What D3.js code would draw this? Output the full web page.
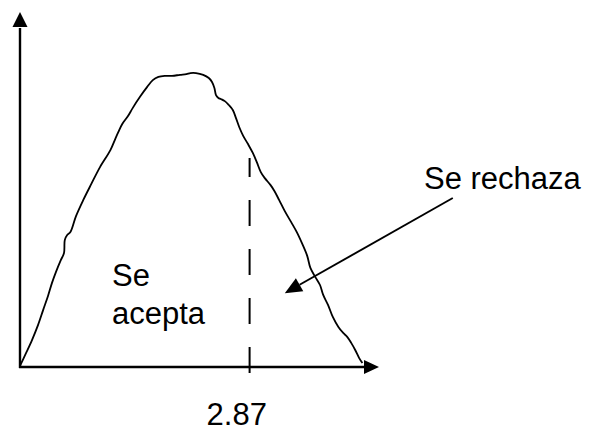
<!DOCTYPE html>
<html>
<head>
<meta charset="utf-8">
<script src="https://cdn.jsdelivr.net/npm/d3@7"></script>
<style>
  html, body { margin: 0; padding: 0; background: #fff; }
  svg { display: block; }
  text { font-family: "Liberation Sans", Arial, sans-serif; fill: #000; }
</style>
</head>
<body>
<svg id="chart" width="590" height="432"></svg>
<script>
// Hand-drawn density curve (statistic value, relative height)
const curveX = [0, 0.075, 0.15, 0.225, 0.29, 0.35, 0.40, 0.45, 0.51, 0.55,
  0.56, 0.59, 0.63, 0.70, 0.79, 0.89, 1.00, 1.13, 1.19, 1.23,
  1.28, 1.35, 1.41, 1.50, 1.59, 1.66, 1.73, 1.81, 1.90, 2.00,
  2.08, 2.13, 2.20, 2.29, 2.36, 2.40, 2.43, 2.45, 2.48, 2.51,
  2.56, 2.61, 2.66, 2.70, 2.74, 2.79, 2.85, 2.91, 2.96, 3.01,
  3.06, 3.13, 3.18, 3.24, 3.31, 3.39, 3.46, 3.53, 3.59, 3.63,
  3.69, 3.75, 3.79, 3.85, 3.91, 3.98, 4.04, 4.09, 4.14, 4.19,
  4.24, 4.28];
const curveY = [0.003, 0.039, 0.076, 0.118, 0.161, 0.200, 0.237, 0.268, 0.301, 0.321,
  0.358, 0.372, 0.380, 0.425, 0.470, 0.515, 0.563, 0.611, 0.642, 0.662,
  0.685, 0.707, 0.730, 0.761, 0.789, 0.808, 0.817, 0.820, 0.820, 0.823,
  0.825, 0.828, 0.828, 0.823, 0.814, 0.803, 0.786, 0.766, 0.758, 0.755,
  0.749, 0.738, 0.724, 0.701, 0.676, 0.651, 0.628, 0.603, 0.577, 0.549,
  0.532, 0.513, 0.496, 0.470, 0.439, 0.408, 0.380, 0.346, 0.313, 0.279,
  0.254, 0.231, 0.203, 0.175, 0.141, 0.113, 0.096, 0.085, 0.068, 0.048,
  0.025, 0.011];

// Critical value separating the two regions
const criticalValue = 2.87;
const criticalLabel = "2.87";

// Region labels
const acceptLines = ["Se", "acepta"];
const rejectLabel = "Se rechaza";

// Annotation arrow: start and tip, in data units
const rejectArrowFrom = [5.41, 0.476];
const rejectArrowTo = [3.31, 0.208];

const svg = d3.select("#chart");

const x = d3.scaleLinear().domain([0, 4.5]).range([20, 380]);
const y = d3.scaleLinear().domain([0, 1]).range([367, 12]);

// Filled triangular arrowhead pointing from `from` to `tip`
function arrowHead(tip, from, len, halfW) {
  const dx = tip[0] - from[0], dy = tip[1] - from[1];
  const d = Math.hypot(dx, dy);
  const ux = dx / d, uy = dy / d;
  const bx = tip[0] - ux * len, by = tip[1] - uy * len;
  const px = -uy * halfW, py = ux * halfW;
  svg.append("path")
    .attr("d", `M${tip[0]},${tip[1]}L${bx + px},${by + py}L${bx - px},${by - py}Z`)
    .attr("fill", "#000");
  return [bx, by];
}

// Axes with arrowheads
const x0 = x(0), y0 = y(0);
const yTip = [x0, y(1)];
const yBase = arrowHead(yTip, [x0, y0], 15, 7.5);
svg.append("line")
  .attr("x1", x0).attr("y1", y0 + 1)
  .attr("x2", x0).attr("y2", yBase[1] + 1)
  .attr("stroke", "#000").attr("stroke-width", 2.4);

const xTip = [379, y0];
const xBase = arrowHead(xTip, [x0, y0], 15, 7);
svg.append("line")
  .attr("x1", x0 - 1).attr("y1", y0)
  .attr("x2", xBase[0] + 1).attr("y2", y0)
  .attr("stroke", "#000").attr("stroke-width", 2.4);

// Density curve
const pts = curveX.map((v, i) => [v, curveY[i]]);
svg.append("path")
  .datum(pts)
  .attr("d", d3.line().x(d => x(d[0])).y(d => y(d[1])).curve(d3.curveCatmullRom.alpha(0.5)))
  .attr("fill", "none")
  .attr("stroke", "#000")
  .attr("stroke-width", 1.8)
  .attr("stroke-linejoin", "round");

// Dashed line at the critical value, drawn upward from just below the axis
svg.append("line")
  .attr("x1", x(criticalValue)).attr("y1", y0 + 6)
  .attr("x2", x(criticalValue)).attr("y2", 158)
  .attr("stroke", "#000")
  .attr("stroke-width", 2)
  .attr("stroke-dasharray", "26,23");

// Critical value label
svg.append("text")
  .attr("x", x(criticalValue) - 43)
  .attr("y", 425)
  .attr("font-size", 31)
  .text(criticalLabel);

// Acceptance region label
svg.append("text")
  .attr("font-size", 31)
  .selectAll("tspan")
  .data(acceptLines)
  .join("tspan")
  .attr("x", x(1.1625) - 1)
  .attr("y", (d, i) => y(0.228) + i * 38)
  .text(d => d);

// Rejection region label and arrow
svg.append("text")
  .attr("x", x(5.075) - 2)
  .attr("y", y(0.501))
  .attr("font-size", 31)
  .text(rejectLabel);

const aFrom = [x(rejectArrowFrom[0]), y(rejectArrowFrom[1])];
const aTip = [x(rejectArrowTo[0]), y(rejectArrowTo[1])];
const aBase = arrowHead(aTip, aFrom, 17, 7.5);
svg.append("line")
  .attr("x1", aFrom[0]).attr("y1", aFrom[1])
  .attr("x2", aBase[0]).attr("y2", aBase[1])
  .attr("stroke", "#000").attr("stroke-width", 1.9);
</script>
</body>
</html>
